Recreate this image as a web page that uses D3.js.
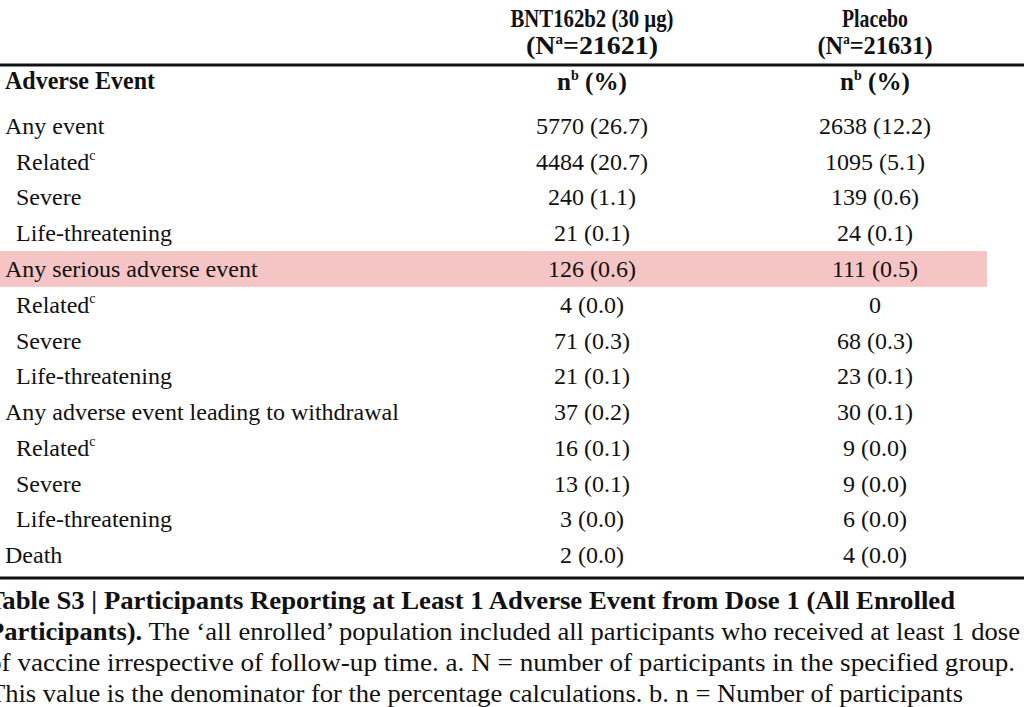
<!DOCTYPE html>
<html><head><meta charset="utf-8">
<script src="https://cdn.jsdelivr.net/npm/d3@7"></script>
<style>body{margin:0;background:#fff}svg{display:block}text{font-family:"Liberation Serif","Times New Roman",serif;fill:#111}</style>
</head><body><div id="root"></div>
<script>
// table data
const events = ['Any event','Related','Severe','Life-threatening','Any serious adverse event','Related','Severe','Life-threatening','Any adverse event leading to withdrawal','Related','Severe','Life-threatening','Death'];
const indent = [0,1,1,1,0,1,1,1,0,1,1,1,0];
const relatedSup = [0,1,0,0,0,1,0,0,0,1,0,0,0];
const vaccine = ['5770 (26.7)','4484 (20.7)','240 (1.1)','21 (0.1)','126 (0.6)','4 (0.0)','71 (0.3)','21 (0.1)','37 (0.2)','16 (0.1)','13 (0.1)','3 (0.0)','2 (0.0)'];
const placebo = ['2638 (12.2)','1095 (5.1)','139 (0.6)','24 (0.1)','111 (0.5)','0','68 (0.3)','23 (0.1)','30 (0.1)','9 (0.0)','9 (0.0)','6 (0.0)','4 (0.0)'];
const highlightRow = 4;
const captionLines = [
  [{t:'Table S3 | Participants Reporting at Least 1 Adverse Event from Dose 1 (All Enrolled',b:true}],
  [{t:'Participants).',b:true},{t:' The ‘all enrolled’ population included all participants who received at least 1 dose',b:false}],
  [{t:'of vaccine irrespective of follow-up time. a. N = number of participants in the specified group.',b:false}],
  [{t:'This value is the denominator for the percentage calculations. b. n = Number of participants',b:false}]
];
const captionX = [-13,-12,-12,-11];
const captionEnd = [955,1020,1015,963];

const W = 1024, H = 707;
const svg = d3.select('#root').append('svg').attr('width',W).attr('height',H);
const fs = 24;

const y = d3.scaleBand().domain(d3.range(events.length)).range([108, 573]);
const x = d3.scalePoint().domain(['label','vac','pla']).range([5, 875]);
const colX = {vac:592, pla:875};

// highlight
svg.append('rect').attr('x',0).attr('y',y(highlightRow)).attr('width',987).attr('height',y.bandwidth())
  .attr('fill','#f5c4c4');

function addText(g, str, px, py, anchor, bold, w, size){
  const t = g.append('text').attr('x',px).attr('y',py).attr('text-anchor',anchor)
    .attr('font-size',size||fs).attr('font-weight',bold?'bold':'normal').text(str);
  if(w) t.attr('textLength',w).attr('lengthAdjust','spacingAndGlyphs');
  return t;
}
function sup(t, s){ t.append('tspan').attr('font-size',14).attr('dy',-10).text(s); }

// headers
const hg = svg.append('g');
addText(hg,'BNT162b2 (30 µg)',colX.vac,27,'middle',true,163,26);
let t = addText(hg,'(N',colX.vac,54,'middle',true,null,26); sup(t,'a'); t.append('tspan').attr('dy',10).text('=21621)');
t.attr('textLength',132).attr('lengthAdjust','spacingAndGlyphs');
addText(hg,'Placebo',colX.pla,27,'middle',true,66,26);
t = addText(hg,'(N',colX.pla,54,'middle',true,null,26); sup(t,'a'); t.append('tspan').attr('dy',10).text('=21631)');
t.attr('textLength',115).attr('lengthAdjust','spacingAndGlyphs');
svg.append('line').attr('x1',0).attr('x2',1024).attr('y1',65).attr('y2',65).attr('stroke','#111').attr('stroke-width',3);
addText(hg,'Adverse Event',5,89,'start',true,150,25);
[colX.vac,colX.pla].forEach(cx=>{
  const tt = addText(hg,'n',cx,90,'middle',true,70,25); sup(tt,'b'); tt.append('tspan').attr('dy',10).text(' (%)');
});

// rows
const rows = svg.append('g').selectAll('g').data(events).join('g')
  .attr('transform',(d,i)=>`translate(0,${y(i)+y.bandwidth()/2+8})`);
rows.each(function(d,i){
  const g = d3.select(this);
  const tx = addText(g,d,x('label')+(indent[i]?11:0),0,'start',false);
  if(relatedSup[i]) sup(tx,'c');
  addText(g,vaccine[i],colX.vac,0,'middle',false);
  addText(g,placebo[i],colX.pla,0,'middle',false);
});
svg.append('line').attr('x1',0).attr('x2',1024).attr('y1',578).attr('y2',578).attr('stroke','#111').attr('stroke-width',3);

// caption
captionLines.forEach((line,i)=>{
  const tt = svg.append('text').attr('x',captionX[i]).attr('y',609+i*31).attr('font-size',26)
    .attr('textLength',captionEnd[i]-captionX[i]).attr('lengthAdjust','spacingAndGlyphs');
  line.forEach(p=>tt.append('tspan').attr('font-weight',p.b?'bold':'normal').text(p.t));
});
</script></body></html>
